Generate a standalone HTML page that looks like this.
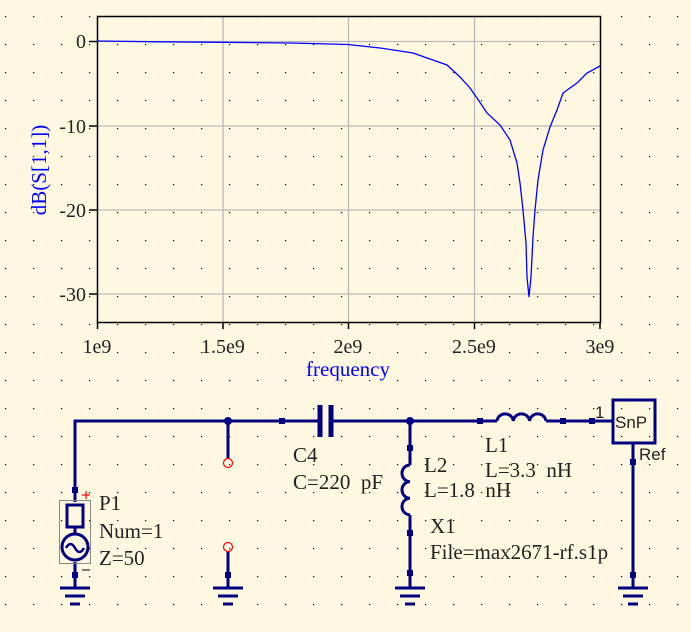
<!DOCTYPE html>
<html><head><meta charset="utf-8"><style>
html,body{margin:0;padding:0;background:#fff8e1;}
svg{display:block;}
text{font-family:"Liberation Serif",serif;}
.s{font-family:"Liberation Sans",sans-serif;}
</style></head><body>
<svg width="691" height="632" viewBox="0 0 691 632" xmlns="http://www.w3.org/2000/svg">
<defs>
<pattern id="dots" x="5" y="16" width="28" height="28" patternUnits="userSpaceOnUse">
<rect x="0" y="0" width="1.2" height="1.2" fill="#000"/>
</pattern>
</defs>
<rect width="691" height="632" fill="#fff8e1"/>
<rect width="691" height="632" fill="url(#dots)"/>
<g stroke="#b8b8b8" stroke-width="1.3">
<line x1="97" y1="41.5" x2="600" y2="41.5"/>
<line x1="97" y1="126" x2="600" y2="126"/>
<line x1="97" y1="210" x2="600" y2="210"/>
<line x1="97" y1="294" x2="600" y2="294"/>
<line x1="223" y1="16" x2="223" y2="322"/>
<line x1="348.5" y1="16" x2="348.5" y2="322"/>
<line x1="474.5" y1="16" x2="474.5" y2="322"/>
</g>
<g stroke="#000" stroke-width="1.5" fill="none">
<rect x="97.5" y="16.5" width="503" height="306"/>
<line x1="89" y1="41.5" x2="97" y2="41.5"/>
<line x1="89" y1="126" x2="97" y2="126"/>
<line x1="89" y1="210" x2="97" y2="210"/>
<line x1="89" y1="294" x2="97" y2="294"/>
<line x1="97.5" y1="322" x2="97.5" y2="329"/>
<line x1="223" y1="322" x2="223" y2="329"/>
<line x1="348.5" y1="322" x2="348.5" y2="329"/>
<line x1="474.5" y1="322" x2="474.5" y2="329"/>
<line x1="600" y1="322" x2="600" y2="329"/>
</g>
<polyline fill="none" stroke="#0000ff" stroke-width="1.3" points="97,41 160,41.8 223,42.3 290,43 348,44.5 380,48 413,53 447,65 460,77 470,88 477,98 487,113 500,125 510,140 517,163 520,183 523,210 526,243 527,277 529,297 531,277 533,237 535,210 538,180 543,150 550,127 557,110 563,93 577,83 587,73 600,66"/>
<g font-size="20" fill="#222" text-anchor="end">
<text x="86" y="48">0</text>
<text x="86" y="133">-10</text>
<text x="86" y="217">-20</text>
<text x="86" y="301">-30</text>
</g>
<g font-size="20" fill="#222" text-anchor="middle">
<text x="97" y="353">1e9</text>
<text x="223" y="353">1.5e9</text>
<text x="348" y="353">2e9</text>
<text x="474" y="353">2.5e9</text>
<text x="600" y="353">3e9</text>
</g>
<text x="348" y="376" font-size="21" fill="#0000ff" text-anchor="middle">frequency</text>
<text transform="translate(46,170) rotate(-90)" font-size="21" fill="#0000ff" text-anchor="middle">dB(S[1,1])</text>

<g stroke="#000080" stroke-width="3" fill="none">
<polyline points="75,490 75,421 318,421"/>
<line x1="333" y1="421" x2="497" y2="421"/>
<line x1="546" y1="421" x2="613" y2="421"/>
<line x1="228" y1="421" x2="228" y2="459"/>
<line x1="228" y1="551" x2="228" y2="588"/>
<line x1="410" y1="421" x2="410" y2="465"/>
<line x1="410" y1="515" x2="410" y2="588"/>
<line x1="633" y1="443" x2="633" y2="588"/>
<line x1="75" y1="490" x2="75" y2="502"/>
<line x1="75" y1="562" x2="75" y2="588"/>
<line x1="320" y1="405" x2="320" y2="437" stroke-width="5"/>
<line x1="331" y1="405" x2="331" y2="437" stroke-width="5"/>
<path d="M497,421 a8.2,8 0 0 1 16.3,0 a8.2,8 0 0 1 16.3,0 a8.2,8 0 0 1 16.3,0"/>
<path d="M410,465 a8,8.3 0 0 0 0,16.6 a8,8.3 0 0 0 0,16.6 a8,8.3 0 0 0 0,16.6"/>
<rect x="613" y="400" width="42" height="43"/>
<rect x="67" y="505" width="16" height="22"/>
<line x1="75" y1="527" x2="75" y2="533"/>
<circle cx="75" cy="547" r="13"/>
<path d="M66,548 q4.5,-8 9,0 q4.5,8 9,0" stroke-width="2.5"/>
</g>
<g stroke="#000080" stroke-width="3">
<g id="gnd"><line x1="60" y1="588" x2="90" y2="588"/><line x1="65" y1="596" x2="85" y2="596"/><line x1="70" y1="604" x2="80" y2="604"/></g>
<use href="#gnd" transform="translate(153,0)"/>
<use href="#gnd" transform="translate(335,0)"/>
<use href="#gnd" transform="translate(558,0)"/>
</g>
<g fill="#000080">
<circle cx="228" cy="421" r="4"/>
<circle cx="410" cy="421" r="4"/>
<rect x="72" y="487" width="6" height="6"/>
<rect x="72" y="572" width="6" height="6"/>
<rect x="225" y="572" width="6" height="6"/>
<rect x="279" y="418" width="6" height="6"/>
<rect x="477" y="418" width="6" height="6"/>
<rect x="560" y="418" width="6" height="6"/>
<rect x="589" y="418" width="6" height="6"/>
<rect x="407" y="445" width="6" height="6"/>
<rect x="407" y="530" width="6" height="6"/>
<rect x="407" y="570" width="6" height="6"/>
<rect x="630" y="459" width="6" height="6"/>
<rect x="630" y="572" width="6" height="6"/>
</g>
<rect x="59.5" y="500.5" width="31" height="63" fill="none" stroke="#888" stroke-width="1"/>
<g stroke="#ff0000" fill="none" stroke-width="1.2">
<circle cx="228" cy="463" r="4.5"/>
<circle cx="228" cy="547" r="4.5"/>
<line x1="82" y1="495" x2="90" y2="495"/><line x1="86" y1="491" x2="86" y2="499"/>
</g>
<line x1="82" y1="570" x2="90" y2="570" stroke="#000" stroke-width="1"/>
<g font-size="21" fill="#222">
<text x="99" y="510">P1</text>
<text x="99" y="538">Num=1</text>
<text x="99" y="565">Z=50</text>
<text x="293" y="462">C4</text>
<text x="293" y="489">C=220&#160;&#160;pF</text>
<text x="424" y="472">L2</text>
<text x="424" y="497">L=1.8&#160;&#160;nH</text>
<text x="485" y="452">L1</text>
<text x="485" y="477">L=3.3&#160;&#160;nH</text>
<text x="430" y="533">X1</text>
<text x="430" y="559">File=max2671-rf.s1p</text>
</g>
<g font-size="17" fill="#222">
<text class="s" x="615" y="428">SnP</text>
<text class="s" x="639" y="460">Ref</text>
<text class="s" x="595" y="418">1</text>
</g>
</svg>
</body></html>
